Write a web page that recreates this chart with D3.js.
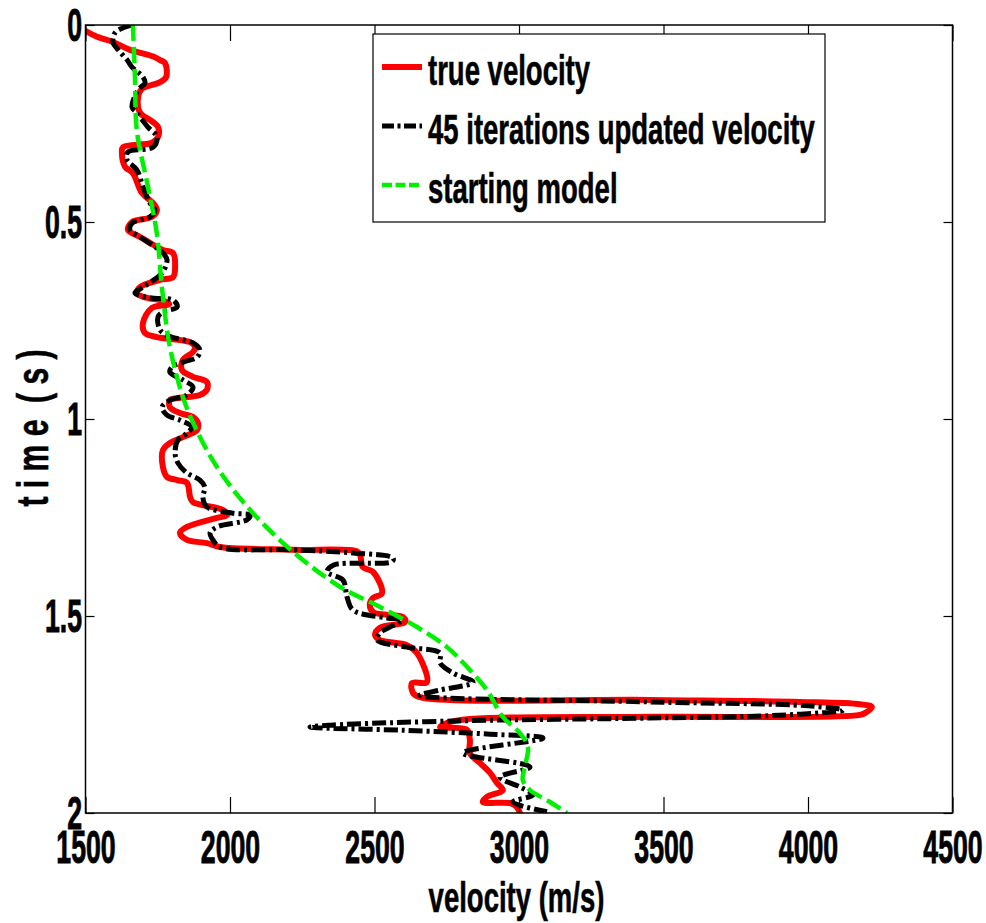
<!DOCTYPE html>
<html>
<head>
<meta charset="utf-8">
<script src="https://cdn.jsdelivr.net/npm/d3@7"></script>
<style>
  html, body { margin: 0; padding: 0; background: #fff; }
  svg { display: block; }
</style>
</head>
<body>
<script>
// ---- velocity profiles: time (s) and velocity (m/s) ----
const trueTime = [0.015, 0.030, 0.043, 0.063, 0.080, 0.089, 0.096, 0.132, 0.145, 0.162, 0.183, 0.223, 0.241, 0.259, 0.284, 0.299,
  0.310, 0.325, 0.360, 0.376, 0.426, 0.452, 0.470, 0.487, 0.500, 0.520, 0.538, 0.553, 0.571, 0.579, 0.614, 0.640, 0.647, 0.665,
  0.680, 0.690, 0.700, 0.708, 0.718, 0.756, 0.782, 0.792, 0.805, 0.817, 0.830, 0.850, 0.876, 0.893, 0.906, 0.926, 0.939, 0.947,
  0.952, 0.970, 0.985, 0.995, 1.010, 1.028, 1.046, 1.061, 1.079, 1.122, 1.147, 1.155, 1.162, 1.198, 1.211, 1.231, 1.244, 1.251,
  1.274, 1.289, 1.307, 1.315, 1.325, 1.332, 1.336, 1.345, 1.376, 1.388, 1.442, 1.454, 1.467, 1.490, 1.503, 1.515, 1.530, 1.548,
  1.561, 1.574, 1.594, 1.668, 1.670, 1.695, 1.706, 1.713, 1.718, 1.724, 1.731, 1.745, 1.751, 1.756, 1.762, 1.772, 1.782, 1.789,
  1.815, 1.848, 1.873, 1.898, 1.924, 1.942, 1.959, 1.972, 1.975, 1.985, 2.000];
const trueVel = [1500, 1540, 1595, 1654, 1735, 1758, 1775, 1779, 1758, 1695, 1682, 1689, 1723, 1751, 1751, 1730,
  1630, 1626, 1637, 1664, 1695, 1734, 1747, 1730, 1661, 1647, 1689, 1723, 1768, 1803, 1810, 1803, 1758, 1689,
  1678, 1700, 1770, 1790, 1730, 1699, 1706, 1747, 1862, 1879, 1872, 1837, 1834, 1872, 1920, 1920, 1896, 1817,
  1792, 1792, 1827, 1872, 1889, 1886, 1837, 1792, 1768, 1768, 1782, 1817, 1851, 1862, 1872, 1976, 1990, 1955,
  1851, 1827, 1851, 1920, 1965, 2218, 2440, 2450, 2460, 2495, 2526, 2495, 2484, 2495, 2599, 2606, 2519, 2502,
  2519, 2612, 2647, 2681, 2630, 2633, 2657, 3453, 3972, 4180, 4221, 4200, 4180, 3453, 2820, 2750, 2727, 2820,
  2830, 2830, 2865, 2900, 2924, 2944, 2889, 2875, 2969, 2993, 3003];

const updTime = [0.000, 0.008, 0.020, 0.043, 0.063, 0.089, 0.107, 0.132, 0.147, 0.165, 0.208, 0.223, 0.259, 0.284, 0.310, 0.322,
  0.343, 0.368, 0.411, 0.452, 0.470, 0.487, 0.503, 0.520, 0.538, 0.579, 0.596, 0.629, 0.665, 0.680, 0.693, 0.698, 0.716, 0.728,
  0.741, 0.774, 0.790, 0.807, 0.825, 0.843, 0.855, 0.868, 0.881, 0.901, 0.919, 0.939, 0.952, 0.970, 0.990, 1.003, 1.020, 1.036,
  1.053, 1.086, 1.112, 1.137, 1.155, 1.173, 1.198, 1.223, 1.239, 1.244, 1.256, 1.274, 1.289, 1.307, 1.325, 1.332, 1.340, 1.353,
  1.362, 1.371, 1.388, 1.409, 1.452, 1.485, 1.505, 1.510, 1.543, 1.561, 1.579, 1.594, 1.619, 1.645, 1.668, 1.688, 1.701, 1.718,
  1.728, 1.739, 1.752, 1.759, 1.766, 1.777, 1.782, 1.790, 1.800, 1.810, 1.848, 1.883, 1.909, 1.934, 1.954, 1.972, 1.997];
const updVel = [1661, 1627, 1602, 1595, 1613, 1644, 1661, 1699, 1706, 1682, 1661, 1678, 1716, 1747, 1734, 1647,
  1644, 1678, 1699, 1723, 1740, 1723, 1661, 1654, 1689, 1768, 1782, 1765, 1700, 1671, 1723, 1803, 1817, 1768,
  1751, 1758, 1790, 1872, 1896, 1886, 1840, 1799, 1792, 1837, 1872, 1851, 1792, 1765, 1782, 1827, 1868, 1851,
  1820, 1810, 1820, 1851, 1896, 1913, 1906, 1920, 2010, 2069, 2058, 1955, 1931, 1941, 1965, 2218, 2426, 2564,
  2561, 2357, 2336, 2391, 2405, 2426, 2543, 2595, 2519, 2509, 2612, 2727, 2727, 2772, 2841, 2727, 2657, 3453,
  4000, 4121, 3900, 3453, 2800, 2350, 2277, 2600, 2900, 3083, 2806, 3038, 2934, 3003, 3048, 2979, 3097];

const startTime = [0.000, 0.130, 0.270, 0.410, 0.530, 0.670, 0.817, 0.944, 1.020, 1.122, 1.223, 1.332, 1.426, 1.477, 1.528,
  1.579, 1.629, 1.688, 1.756, 1.797, 1.832, 1.883, 1.916, 1.942, 1.972, 2.000];
const startVel = [1664, 1671, 1678, 1716, 1747, 1765, 1792, 1837, 1879, 1955, 2060, 2210, 2381, 2519, 2647,
  2751, 2820, 2889, 2944, 3003, 3031, 3020, 3013, 3038, 3107, 3166];

const xTickValues = [1500, 2000, 2500, 3000, 3500, 4000, 4500];
const yTickValues = [0, 0.5, 1, 1.5, 2];
const legendLabels = ["true velocity", "45 iterations updated velocity", "starting model"];

// ---- layout ----
const W = 986, H = 923;
const plot = { left: 85.5, right: 952.5, top: 25, bottom: 813 };
const FONT = '"Liberation Sans", Arial, Helvetica, sans-serif';

const x = d3.scaleLinear().domain([1500, 4500]).range([plot.left, plot.right]);
const y = d3.scaleLinear().domain([0, 2]).range([plot.top, plot.bottom]);

const svg = d3.select("body").append("svg").attr("width", W).attr("height", H);

svg.append("clipPath").attr("id", "plotClip")
  .append("rect")
  .attr("x", plot.left).attr("y", plot.top)
  .attr("width", plot.right - plot.left).attr("height", plot.bottom - plot.top);

// ---- curves (velocity on x, time on y) ----
const series = [
  { time: trueTime, vel: trueVel, color: "#ff0000", width: 6, dash: null },
  { time: updTime, vel: updVel, color: "#000000", width: 5, dash: "14,4,3,4" },
  { time: startTime, vel: startVel, color: "#00f000", width: 4.5, dash: "16,6" }
];

const line = d3.line()
  .x(d => x(d[1]))
  .y(d => y(d[0]))
  .curve(d3.curveCatmullRom.alpha(0.5));

const curves = svg.append("g").attr("clip-path", "url(#plotClip)");
series.forEach(s => {
  curves.append("path")
    .datum(d3.zip(s.time, s.vel))
    .attr("d", line)
    .attr("fill", "none")
    .attr("stroke", s.color)
    .attr("stroke-width", s.width)
    .attr("stroke-linejoin", "round")
    .attr("stroke-linecap", s.dash ? "butt" : "round")
    .attr("stroke-dasharray", s.dash);
});

// ---- axes ----
function styleAxis(g) {
  g.select(".domain").remove();
  g.selectAll(".tick line").attr("stroke", "#000").attr("stroke-width", 1.2);
  g.attr("font-family", FONT).attr("font-size", 46).attr("font-weight", "bold");
}

const xAxis = svg.append("g")
  .attr("transform", `translate(0,${plot.bottom})`)
  .call(d3.axisBottom(x).tickValues(xTickValues).tickSizeInner(-16).tickSizeOuter(0).tickFormat(d3.format("d")))
  .call(styleAxis);
xAxis.selectAll(".tick text")
  .attr("fill", "#000").attr("stroke", "#000").attr("stroke-width", 0.9)
  .attr("x", 0).attr("y", 0).attr("dy", null)
  .attr("transform", "translate(0,49.5) scale(0.58,1)");

const yAxis = svg.append("g")
  .attr("transform", `translate(${plot.left},0)`)
  .call(d3.axisLeft(y).tickValues(yTickValues).tickSizeInner(-9).tickSizeOuter(0).tickFormat(d => String(d)))
  .call(styleAxis);
yAxis.selectAll(".tick text")
  .attr("fill", "#000").attr("stroke", "#000").attr("stroke-width", 0.9)
  .attr("x", 0).attr("y", 0).attr("dy", null)
  .attr("transform", "translate(-3.5,15.5) scale(0.58,1)");

svg.append("g")
  .attr("transform", `translate(0,${plot.top})`)
  .call(d3.axisTop(x).tickValues(xTickValues).tickSizeInner(-16).tickSizeOuter(0).tickFormat(""))
  .call(styleAxis);

svg.append("g")
  .attr("transform", `translate(${plot.right},0)`)
  .call(d3.axisRight(y).tickValues(yTickValues).tickSizeInner(-9).tickSizeOuter(0).tickFormat(""))
  .call(styleAxis);

// axes box
svg.append("rect")
  .attr("x", plot.left).attr("y", plot.top)
  .attr("width", plot.right - plot.left).attr("height", plot.bottom - plot.top)
  .attr("fill", "none").attr("stroke", "#000").attr("stroke-width", 1.5);

// ---- axis titles ----
svg.append("text")
  .attr("transform", "translate(516.5,912) scale(0.655,1)")
  .attr("text-anchor", "middle")
  .attr("font-family", FONT).attr("font-size", 42).attr("font-weight", "bold")
  .attr("stroke", "#000").attr("stroke-width", 0.6)
  .text("velocity (m/s)");

svg.append("text")
  .attr("transform", "translate(48,428) rotate(-90)")
  .attr("text-anchor", "middle")
  .attr("font-family", FONT).attr("font-size", 44).attr("font-weight", "bold")
  .attr("stroke", "#000").attr("stroke-width", 0.6)
  .attr("textLength", 157).attr("lengthAdjust", "spacingAndGlyphs")
  .style("white-space", "pre")
  .text("t i m e  ( s )");

// ---- legend ----
const legend = svg.append("g");
legend.append("rect")
  .attr("x", 373).attr("y", 34).attr("width", 452).attr("height", 188)
  .attr("fill", "#fff").attr("stroke", "#000").attr("stroke-width", 1.2);

series.forEach((s, i) => {
  const cy = 67 + i * 59;
  legend.append("line")
    .attr("x1", 382).attr("x2", 422).attr("y1", cy).attr("y2", cy)
    .attr("stroke", s.color).attr("stroke-width", s.width)
    .attr("stroke-dasharray", s.dash ? (i === 1 ? "12,3.5,3,3.5" : "10,3.5") : null);
  legend.append("text")
    .attr("transform", `translate(428,${85 + i * 59}) scale(0.655,1)`)
    .attr("font-family", FONT).attr("font-size", 42).attr("font-weight", "bold")
    .attr("stroke", "#000").attr("stroke-width", 0.6)
    .text(legendLabels[i]);
});
</script>
</body>
</html>
